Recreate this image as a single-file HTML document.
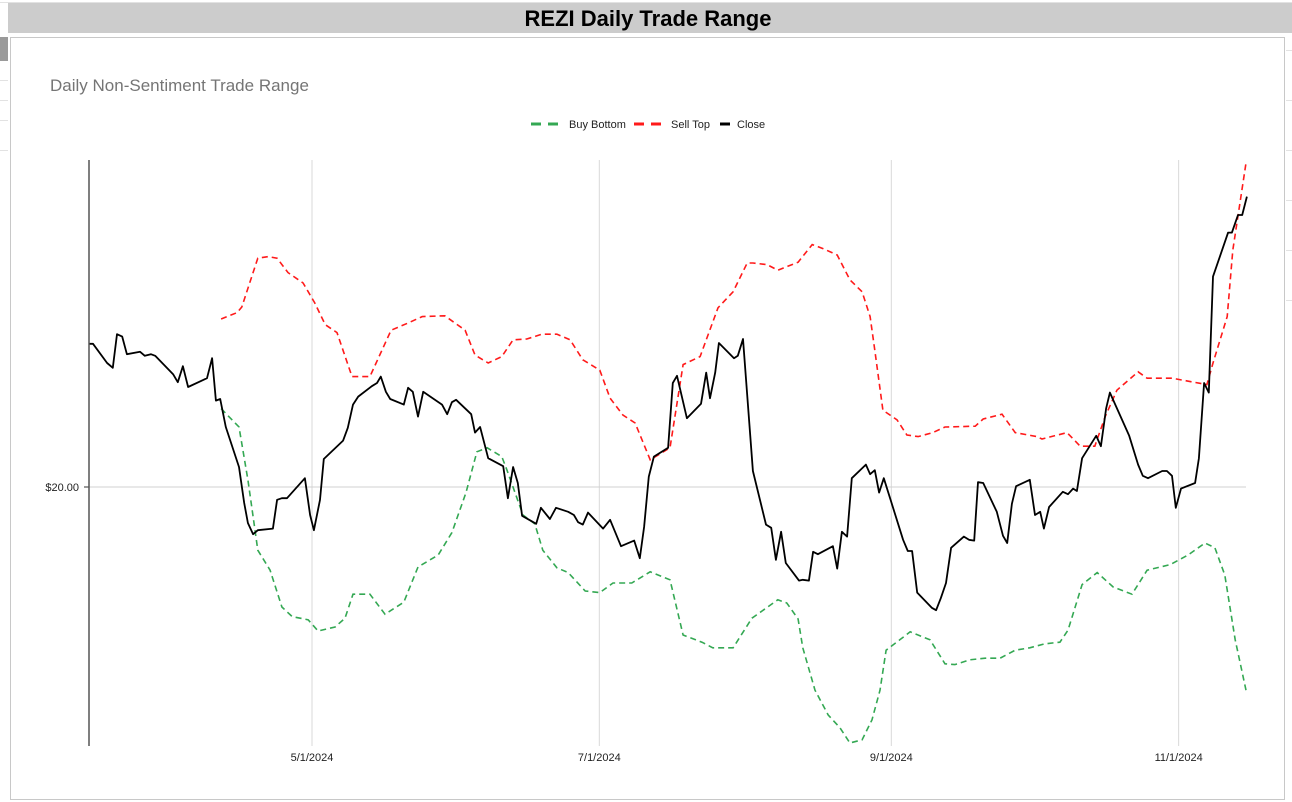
<!DOCTYPE html>
<html><head><meta charset="utf-8">
<style>
html,body{margin:0;padding:0;background:#fff;width:1292px;height:802px;overflow:hidden;font-family:"Liberation Sans",Arial,sans-serif;}
</style></head>
<body>
<svg id="chart" width="1292" height="802" xmlns="http://www.w3.org/2000/svg">
  <g stroke="#e2e2e2" stroke-width="1">
    <line x1="0" y1="2.5" x2="1292" y2="2.5"/>
    <line x1="1286" y1="50.5" x2="1292" y2="50.5"/><line x1="1286" y1="100.5" x2="1292" y2="100.5"/>
    <line x1="1286" y1="150.5" x2="1292" y2="150.5"/><line x1="1286" y1="200.5" x2="1292" y2="200.5"/>
    <line x1="1286" y1="250.5" x2="1292" y2="250.5"/><line x1="1286" y1="300.5" x2="1292" y2="300.5"/>
    <line x1="0" y1="80.5" x2="8" y2="80.5"/><line x1="0" y1="100.5" x2="8" y2="100.5"/>
    <line x1="0" y1="120.5" x2="8" y2="120.5"/><line x1="0" y1="150.5" x2="8" y2="150.5"/>
  </g>
  <rect x="8" y="3" width="1284" height="30" fill="#cccccc"/>
  <text x="648" y="26" text-anchor="middle" font-size="22" font-weight="bold" fill="#000">REZI Daily Trade Range</text>
  <rect x="0" y="37" width="8" height="24" fill="#9a9a9a"/>
  <rect x="10.5" y="37.5" width="1274" height="762" fill="#fff" stroke="#c8c8c8"/>
  <text x="50" y="91" font-size="17" fill="#757575">Daily Non-Sentiment Trade Range</text>
  <g font-size="11" fill="#222">
    <g>
      <line x1="531" y1="124" x2="561" y2="124" stroke="#34a853" stroke-width="3" stroke-dasharray="10,7"/>
      <text x="569" y="128">Buy Bottom</text></g>
    <g>
      <line x1="634" y1="124" x2="664" y2="124" stroke="#ff1a1a" stroke-width="3" stroke-dasharray="10,7"/>
      <text x="671" y="128">Sell Top</text></g>
    <g>
      <line x1="720" y1="124" x2="730" y2="124" stroke="#000" stroke-width="3"/>
      <text x="737" y="128">Close</text></g>
  </g>
  <g id="grid"></g>
  <g id="series"></g>
  <g id="axes"></g>
</svg>
<script>
// Days offset from 2024-05-01
const closeDays = [-47.3,-46.5,-43.5,-42.3,-41.4,-40.3,-39.3,-36.5,-35.5,-34.2,-33.3,-29.5,-28.5,-27.4,-26.3,-22.3,-21.2,-20.4,-19.5,-18.3,-15.5,-14.4,-13.6,-12.5,-11.5,-8.3,-7.4,-6.4,-5.3,-1.5,-0.4,0.4,1.7,2.5,6.6,7.6,8.7,9.8,12.7,13.8,14.6,15.7,16.6,19.5,20.4,21.4,22.5,23.6,27.6,28.7,29.7,30.6,33.8,34.6,35.7,37.4,40.6,41.6,42.7,43.7,44.6,47.6,48.6,50.5,51.8,54.4,55.6,56.5,57.5,58.6,61.8,63.3,65.6,68.4,69.6,70.5,71.5,72.6,75.6,76.6,77.5,79.6,82.6,83.7,84.5,85.6,86.4,89.6,90.4,91.5,93.6,96.4,97.5,98.5,99.6,100.6,103.4,104.2,105.5,106.4,107.4,110.6,111.5,112.5,113.6,114.6,117.6,118.5,119.5,120.4,121.4,125.5,126.5,127.4,128.5,131.6,132.5,133.5,134.6,135.7,138.4,139.5,140.6,141.4,142.5,145.4,146.7,147.6,148.6,149.5,152.4,153.5,154.6,155.4,156.5,159.4,160.5,161.6,162.4,163.5,166.5,167.5,168.6,169.4,173.5,175.4,176.4,177.5,180.5,181.5,182.6,183.4,184.5,187.5,188.3,189.4,190.4,191.3,194.5,195.3,196.6,197.5,198.5];
const closeValues = [21.79,21.79,21.55,21.49,21.91,21.88,21.66,21.69,21.64,21.66,21.64,21.41,21.31,21.51,21.25,21.36,21.61,21.08,21.10,20.75,20.25,19.80,19.55,19.41,19.46,19.48,19.84,19.86,19.86,20.11,19.65,19.46,19.84,20.35,20.58,20.74,21.03,21.13,21.26,21.30,21.38,21.19,21.10,21.03,21.24,21.19,20.88,21.19,21.03,20.91,21.06,21.09,20.91,20.68,20.75,20.36,20.26,19.86,20.25,20.05,19.64,19.54,19.74,19.60,19.74,19.69,19.65,19.56,19.53,19.68,19.48,19.59,19.26,19.33,19.11,19.50,20.13,20.38,20.49,21.30,21.39,20.86,21.04,21.43,21.11,21.43,21.80,21.61,21.64,21.85,20.20,19.53,19.49,19.09,19.44,19.05,18.83,18.84,18.83,19.19,19.16,19.26,18.98,19.44,19.38,20.11,20.28,20.16,20.21,19.93,20.11,19.34,19.20,19.20,18.68,18.49,18.46,18.61,18.80,19.24,19.38,19.34,19.33,20.06,20.05,19.69,19.39,19.30,19.79,20.01,20.09,19.65,19.69,19.48,19.75,19.94,19.91,19.98,19.95,20.36,20.64,20.51,20.98,21.18,20.64,20.28,20.14,20.11,20.20,20.20,20.14,19.74,19.98,20.05,20.36,21.30,21.18,22.63,23.18,23.18,23.40,23.40,23.63];
const sellDays = [-19.3,-15.9,-14.9,-11.5,-9.3,-7.4,-5.1,-1.9,0.6,2.8,5.3,8.5,12.3,16.8,20.4,23.4,28.2,32.5,34.6,37.4,40.3,42.7,45.6,48.8,52.0,54.8,57.5,61.1,63.3,66.0,68.6,71.8,76.0,78.8,82.4,86.2,89.4,92.4,93.6,96.6,98.9,103.2,106.2,108.5,111.5,114.2,116.8,118.5,119.5,121.2,124.2,126.3,128.7,131.8,134.4,140.8,142.5,146.5,149.3,153.9,155.0,160.3,163.1,166.2,168.4,170.9,175.4,177.3,182.6,190.0,191.3,194.3,195.5,198.3];
const sellValues = [22.10,22.18,22.25,22.86,22.88,22.86,22.68,22.55,22.30,22.03,21.93,21.38,21.38,21.96,22.05,22.13,22.14,21.96,21.65,21.55,21.63,21.84,21.85,21.91,21.91,21.84,21.59,21.46,21.11,20.90,20.80,20.34,20.49,21.53,21.63,22.24,22.44,22.80,22.80,22.78,22.71,22.81,23.03,22.98,22.90,22.59,22.44,22.13,21.71,20.96,20.84,20.65,20.63,20.68,20.75,20.76,20.85,20.91,20.68,20.63,20.60,20.68,20.51,20.51,20.88,21.21,21.44,21.36,21.36,21.28,21.55,22.13,22.96,24.05];
const buyDays = [-19.3,-15.5,-13.6,-12.5,-11.5,-8.9,-6.4,-4.2,-0.8,1.3,4.9,7.0,8.7,12.3,15.5,19.5,22.5,26.8,29.7,32.7,35.0,37.2,40.3,41.4,44.8,47.3,49.0,52.0,54.4,58.0,61.1,63.9,67.9,71.8,76.0,78.8,82.8,85.1,89.4,93.4,98.9,100.8,103.2,104.2,106.8,109.6,112.1,114.2,116.8,118.9,120.6,121.9,124.8,127.0,131.2,134.4,136.5,139.7,142.9,146.1,149.3,152.4,155.6,158.8,160.5,163.5,166.7,170.1,174.1,177.3,182.2,186.0,189.6,191.7,193.8,196.0,198.3];
const buyValues = [20.98,20.75,20.09,19.63,19.21,18.96,18.50,18.38,18.34,18.20,18.25,18.36,18.66,18.66,18.41,18.56,19.00,19.15,19.43,19.93,20.44,20.49,20.38,20.21,19.65,19.54,19.21,18.99,18.93,18.70,18.68,18.80,18.80,18.94,18.84,18.15,18.06,17.99,17.99,18.36,18.59,18.55,18.35,17.99,17.46,17.15,16.99,16.80,16.84,17.09,17.46,17.96,18.09,18.19,18.09,17.79,17.78,17.84,17.86,17.86,17.96,17.99,18.04,18.06,18.21,18.78,18.93,18.75,18.66,18.96,19.03,19.15,19.30,19.24,18.90,18.09,17.46];
const xTickDays = [0, 61, 123, 184];
const xTickLabels = ["5/1/2024","7/1/2024","9/1/2024","11/1/2024"];
const yTickValues = [20];
const yTickLabels = ["$20.00"];

const NS = "http://www.w3.org/2000/svg";
const X0 = 312, PXDAY = 4.71, Y0 = 487, PXVAL = 80;
const PL = 89, PR = 1246, PT = 160, PB = 746;
function xs(d){ return X0 + d*PXDAY; }
function ys(v){ return Y0 - (v-20)*PXVAL; }
function mk(tag, attrs, parent){ const e=document.createElementNS(NS,tag); for(const k in attrs) e.setAttribute(k, attrs[k]); parent.appendChild(e); return e; }

const grid = document.getElementById('grid');
const axes = document.getElementById('axes');
const series = document.getElementById('series');

xTickDays.forEach((d,i)=>{
  const l = mk('line',{x1:xs(d),x2:xs(d),y1:PT,y2:PB,stroke:'#d9d9d9','stroke-width':1},grid);
  
  
  const t = mk('text',{x:xs(d),y:PB+15,'text-anchor':'middle','font-size':11,fill:'#222'},axes);
  t.textContent = xTickLabels[i];
  
  
});
yTickValues.forEach((v,i)=>{
  const l = mk('line',{x1:PL,x2:PR,y1:ys(v),y2:ys(v),stroke:'#d0d0d0','stroke-width':1},grid);
  
  
  const tk = mk('line',{x1:PL-5,x2:PL,y1:ys(v),y2:ys(v),stroke:'#333','stroke-width':1},axes);
  
  
  const t = mk('text',{x:PL-10,y:ys(v)+4,'text-anchor':'end','font-size':11,fill:'#222'},axes);
  t.textContent = yTickLabels[i];
  
  
});
const ax = mk('line',{x1:PL,x2:PL,y1:PT,y2:PB,stroke:'#555','stroke-width':1.5},axes);



function pts(days, vals){ return days.map((d,i)=>xs(d).toFixed(1)+','+ys(vals[i]).toFixed(1)).join(' '); }
const buy = mk('polyline',{points:pts(buyDays,buyValues),fill:'none',stroke:'#34a853','stroke-width':1.6,'stroke-dasharray':'6,4'},series);


const sell = mk('polyline',{points:pts(sellDays,sellValues),fill:'none',stroke:'#ff1a1a','stroke-width':1.6,'stroke-dasharray':'6,4'},series);


const cl = mk('polyline',{points:pts(closeDays,closeValues),fill:'none',stroke:'#000','stroke-width':1.8,'stroke-linejoin':'round'},series);


</script>
</body></html>
